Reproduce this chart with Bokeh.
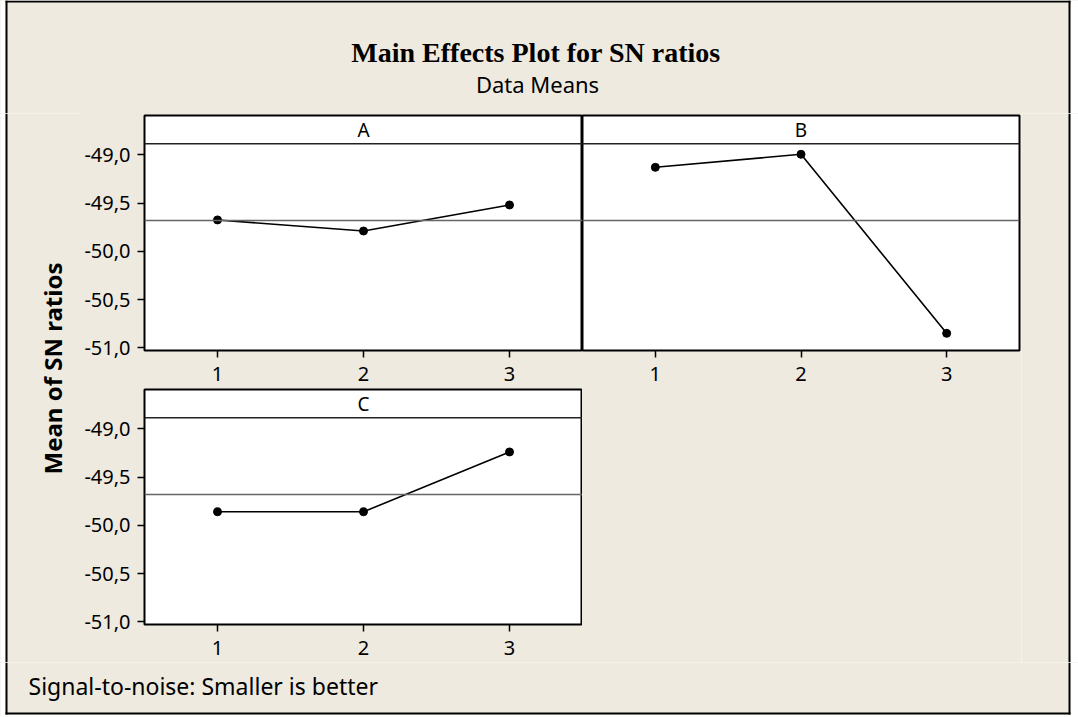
from bokeh.plotting import figure
from bokeh.models import Range1d, FixedTicker, CustomJSTickFormatter, Span, Label, Row, Column, ColumnDataSource
from bokeh.core.properties import value
from bokeh.embed import file_html
from bokeh.resources import INLINE

# ---- data ----
levels = [1, 2, 3]
factor_names = ["A", "B", "C"]
mean_A = [-49.675, -49.79, -49.52]
mean_B = [-49.13, -48.995, -50.85]
mean_C = [-49.86, -49.86, -49.24]
grand_mean = -49.68
y_ticks = [-51.0, -50.5, -50.0, -49.5, -49.0]
title_text = "Main Effects Plot for SN ratios"
subtitle_text = "Data Means"
ylabel_text = "Mean of SN ratios"
footnote_text = "Signal-to-noise: Smaller is better"

# ---- style ----
BG = "#EEEAE0"
SANS = "Noto Sans"
X0, X1 = 0.5, 3.5
Y0 = -51.028
HEAD_LINE = -48.886
Y1 = HEAD_LINE + 0.293


def pixel_fig(w, h, bg="white"):
    p = figure(width=w, height=h, x_range=Range1d(0, w), y_range=Range1d(0, h),
               toolbar_location=None, output_backend="svg", tools="",
               x_axis_location=None, y_axis_location=None, min_border=0,
               outline_line_color=None, background_fill_color=bg, border_fill_color=bg)
    p.xgrid.visible = False
    p.ygrid.visible = False
    return p


def panel(w, h, bl, br, bt, bb, letter, ys, show_y):
    p = figure(width=w, height=h, x_range=Range1d(X0, X1), y_range=Range1d(Y0, Y1),
               toolbar_location=None, output_backend="svg", tools="",
               min_border_left=bl, min_border_right=br, min_border_top=bt, min_border_bottom=bb,
               background_fill_color="white", border_fill_color=BG,
               outline_line_color="black", outline_line_width=2,
               y_axis_location="left" if show_y else None)
    p.xgrid.visible = False
    p.ygrid.visible = False
    ax = p.xaxis[0]
    ax.ticker = FixedTicker(ticks=levels)
    ax.axis_line_color = None
    ax.major_tick_in = 0
    ax.major_tick_out = 7
    ax.major_tick_line_width = 1.5
    ax.major_tick_line_color = "black"
    ax.minor_tick_line_color = None
    ax.major_label_standoff = 9
    ax.major_label_text_font = SANS
    ax.major_label_text_font_size = "20px"
    ax.major_label_text_color = "black"
    if show_y:
        ay = p.yaxis[0]
        ay.ticker = FixedTicker(ticks=y_ticks)
        ay.formatter = CustomJSTickFormatter(code="return tick.toFixed(1).replace('.', ',');")
        ay.axis_line_color = None
        ay.major_tick_in = 0
        ay.major_tick_out = 7
        ay.major_tick_line_width = 1.5
        ay.major_tick_line_color = "black"
        ay.minor_tick_line_color = None
        ay.major_label_standoff = 7
        ay.major_label_text_font = SANS
        ay.major_label_text_font_size = "20px"
        ay.major_label_text_color = "black"
    p.add_layout(Span(location=HEAD_LINE, dimension="width", line_color="#222222", line_width=1.5))
    p.add_layout(Span(location=grand_mean, dimension="width", line_color="#666666", line_width=1.5))
    p.add_layout(Label(x=2, y=(HEAD_LINE + Y1) / 2, text=letter, text_align="center",
                       text_baseline="middle", text_font=SANS, text_font_size="19px",
                       text_color="black"))
    src = ColumnDataSource(dict(x=levels, y=ys))
    p.line("x", "y", source=src, line_color="black", line_width=1.6)
    p.scatter("x", "y", source=src, size=8, color="black")
    return p


# title block (page 0..113)
pt = pixel_fig(1078, 113)
pt.quad(left=[5], right=[1070], bottom=[0], top=[113], fill_color=BG, line_color=None)
pt.segment(x0=[6, 1069, 5], y0=[0, 0, 112], x1=[6, 1069, 1070], y1=[113, 113, 112],
           line_color="black", line_width=2)
pt.text(x=[535.5], y=[61], text=[title_text], text_font=value("Liberation Serif"),
        text_font_style="bold", text_font_size="28px", text_align="center",
        text_baseline="middle", text_color="black")
pt.text(x=[537], y=[30], text=[subtitle_text], text_font=value(SANS),
        text_font_size="22px", text_align="center", text_baseline="middle", text_color="black")

# y label strip (page x 0..80, y 113..662)
py = pixel_fig(80, 549)
py.quad(left=[5], right=[80], bottom=[0], top=[549], fill_color=BG, line_color=None)
py.segment(x0=[6], y0=[0], x1=[6], y1=[549], line_color="black", line_width=2)
py.text(x=[52], y=[294], text=[ylabel_text], angle=1.5707963, text_font=value(SANS),
        text_font_style="bold", text_font_size="24px", text_align="center",
        text_baseline="middle", text_color="black")

# right strip (page x 1021..1078)
pr = pixel_fig(57, 549)
pr.quad(left=[0], right=[49], bottom=[0], top=[549], fill_color=BG, line_color=None)
pr.segment(x0=[48], y0=[0], x1=[48], y1=[549], line_color="black", line_width=2)

# footnote (page y 662..717)
pf = pixel_fig(1078, 55)
pf.quad(left=[5], right=[1070], bottom=[3], top=[55], fill_color=BG, line_color=None)
pf.segment(x0=[6, 1069, 5], y0=[3, 3, 4], x1=[6, 1069, 1070], y1=[55, 55, 4],
           line_color="black", line_width=2)
pf.text(x=[28], y=[32], text=[footnote_text], text_font=value(SANS),
        text_font_size="23px", text_align="left", text_baseline="middle", text_color="black")

# panels
pA = panel(502, 274, 64, 0, 2, 37, factor_names[0], mean_A, True)
pB = panel(439, 274, 0, 2, 2, 37, factor_names[1], mean_B, False)
pC = panel(502, 275, 64, 0, 2, 38, factor_names[2], mean_C, True)
pE = pixel_fig(439, 275, bg=BG)

bgstyle = {"background-color": BG}
middle = Column(children=[Row(children=[pA, pB], spacing=0, styles=bgstyle),
                          Row(children=[pC, pE], spacing=0, styles=bgstyle)],
                spacing=0, styles=bgstyle)
layout = Column(children=[pt, Row(children=[py, middle, pr], spacing=0, styles=bgstyle), pf],
                spacing=0, styles=bgstyle)

open("out.html", "w").write(file_html(layout, INLINE))
